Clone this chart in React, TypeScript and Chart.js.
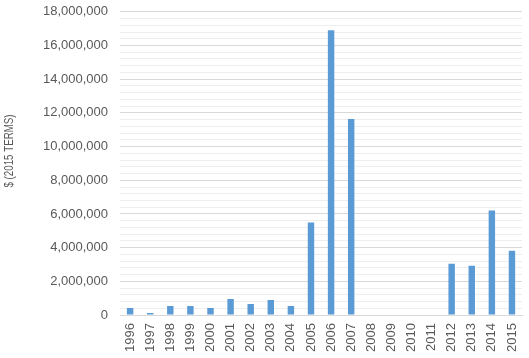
import React, { useEffect, useRef } from "react";
import { Chart, registerables } from "chart.js";

Chart.register(...registerables);

const years = ["1996","1997","1998","1999","2000","2001","2002","2003","2004","2005","2006","2007","2008","2009","2010","2011","2012","2013","2014","2015"];
const values = [420000,120000,540000,540000,420000,960000,660000,900000,540000,5490000,16900000,11640000,0,0,0,0,3040000,2930000,6210000,3820000];
const yAxisTitle = "$ (2015 TERMS)";

const titlePlugin = {
  id: "yTitle",
  afterDraw(chart: any) {
    const c = chart.ctx;
    c.save();
    c.translate(9, 151);
    c.rotate(-Math.PI / 2);
    c.font = "13px 'Liberation Sans', sans-serif";
    const w = c.measureText(yAxisTitle).width;
    c.scale(73 / w, 1);
    c.fillStyle = "#595959";
    c.textAlign = "center";
    c.textBaseline = "middle";
    c.fillText(yAxisTitle, 0, 0);
    c.restore();
  },
};

export default function App() {
  const ref = useRef<HTMLCanvasElement>(null);
  useEffect(() => {
    document.body.style.margin = "0";
    const ctx = ref.current!;
    const chart = new Chart(ctx, {
      type: "bar",
      data: {
        labels: years,
        datasets: [{
          data: values,
          backgroundColor: "#5b9bd5",
          barPercentage: 0.32,
          categoryPercentage: 1,
        }],
      },
      plugins: [titlePlugin],
      options: {
        animation: false,
        responsive: false,
        maintainAspectRatio: false,
        layout: { padding: { top: 0, right: 7, bottom: -2, left: 39 } },
        plugins: { legend: { display: false }, tooltip: { enabled: false } },
        scales: {
          x: {
            afterFit: (s: any) => { s.paddingRight = 0; s.paddingLeft = 0; },
            grid: { display: false, drawTicks: false },
            border: { color: "#d9d9d9" },
            ticks: {
              color: "#595959",
              font: { family: "Liberation Sans", size: 13 },
              minRotation: 90,
              maxRotation: 90,
              autoSkip: false,
              padding: 8,
            },
          },
          y: {
            min: 0,
            max: 18000000,
            border: { display: false },
            grid: {
              drawTicks: true,
              tickLength: 8,
              tickColor: "rgba(0,0,0,0)",
              color: (c: any) => (c.tick && c.tick.value % 2000000 === 0 ? "#d9d9d9" : "#eeeeee"),
            },
            ticks: {
              stepSize: 400000,
              autoSkip: false,
              color: "#595959",
              padding: 4,
              font: { family: "Liberation Sans", size: 13 },
              callback: (v: any) => (Number(v) % 2000000 === 0 ? Number(v).toLocaleString("en-US") : ""),
            },
          },
        },
      },
    });
    return () => chart.destroy();
  }, []);
  return (
    <div style={{ position: "fixed", left: 0, top: 0, width: 529, height: 358, background: "#fff" }}>
      <canvas ref={ref} width={529} height={358} style={{ width: 529, height: 358 }} />
    </div>
  );
}
